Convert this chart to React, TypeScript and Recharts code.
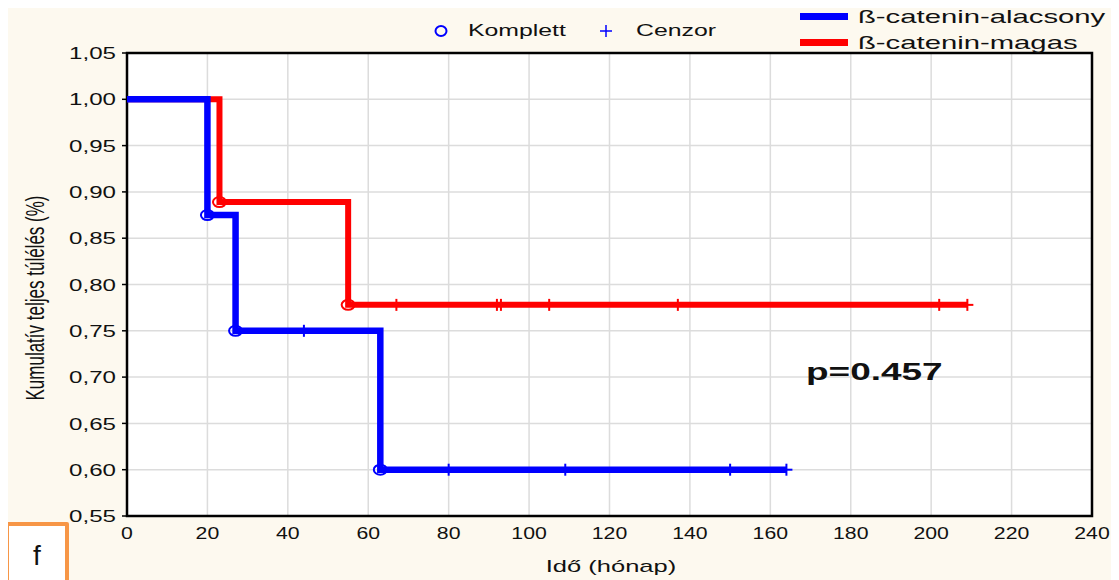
import React from "react";
import {
  ComposedChart,
  Line,
  Scatter,
  XAxis,
  YAxis,
  CartesianGrid,
  ReferenceArea,
} from "recharts";

// Kaplan-Meier steps: months and cumulative survival after each step
const LOW_TIME = [0, 20, 27, 63, 164];
const LOW_SURV = [1, 0.875, 0.75, 0.6, 0.6];
const HIGH_TIME = [0, 23, 55, 209];
const HIGH_SURV = [1, 0.889, 0.778, 0.778];

// complete (event) and censored observations, months
const LOW_EVENTS = [20, 27, 63];
const HIGH_EVENTS = [23, 55];
const LOW_CENSORED = [44, 80, 109, 150, 164];
const HIGH_CENSORED = [67, 92, 93, 105, 137, 202, 209];

const X_TICKS = [0, 20, 40, 60, 80, 100, 120, 140, 160, 180, 200, 220, 240];
const Y_TICKS = [0.55, 0.6, 0.65, 0.7, 0.75, 0.8, 0.85, 0.9, 0.95, 1.0, 1.05];

const BLUE = "#0000ff";
const RED = "#ff0000";
const BG = "#fdf9ef";
const FONT = "'Liberation Sans', Arial, sans-serif";
const NARROW = "'Liberation Sans Narrow', 'Liberation Sans', Arial, sans-serif";

const W = 1111;
const H = 572;

const survAt = (times: number[], surv: number[], t: number) => {
  let s = surv[0];
  times.forEach((tt, i) => {
    if (tt <= t) s = surv[i];
  });
  return s;
};

const steps = (times: number[], surv: number[]) =>
  times.map((t, i) => ({ t, s: surv[i] }));
const marks = (at: number[], times: number[], surv: number[]) =>
  at.map((t) => ({ t, s: survAt(times, surv, t) }));

const lowLine = steps(LOW_TIME, LOW_SURV);
const highLine = steps(HIGH_TIME, HIGH_SURV);
const lowEvents = marks(LOW_EVENTS, LOW_TIME, LOW_SURV);
const highEvents = marks(HIGH_EVENTS, HIGH_TIME, HIGH_SURV);
const lowCens = marks(LOW_CENSORED, LOW_TIME, LOW_SURV);
const highCens = marks(HIGH_CENSORED, HIGH_TIME, HIGH_SURV);

const openCircle = (color: string) => (p: any) =>
  (
    <ellipse cx={p.cx} cy={p.cy} rx={6.5} ry={5} fill="none" stroke={color} strokeWidth={2} />
  );

const plus = (color: string) => (p: any) =>
  (
    <g stroke={color} strokeWidth={2}>
      <line x1={p.cx} x2={p.cx} y1={p.cy - 6} y2={p.cy + 6} />
      <line x1={p.cx - 6} x2={p.cx + 6} y1={p.cy} y2={p.cy} />
    </g>
  );

const YTick = (p: any) => (
  <text
    transform={`translate(${p.x - 4},${p.y}) scale(1.42,1)`}
    textAnchor="end"
    dominantBaseline="central"
    fontFamily={FONT}
    fontSize={17}
    fill="#111"
  >
    {Number(p.payload.value).toFixed(2).replace(".", ",")}
  </text>
);

const XTick = (p: any) => (
  <text
    transform={`translate(${p.x},${p.y + 15}) scale(1.25,1)`}
    textAnchor="middle"
    fontFamily={NARROW}
    fontSize={17}
    fill="#111"
  >
    {p.payload.value}
  </text>
);

const stretched = (sx: number): React.CSSProperties => ({
  position: "absolute",
  whiteSpace: "nowrap",
  transform: `scaleX(${sx})`,
  transformOrigin: "left center",
  lineHeight: 1,
});

export default function App() {
  return (
    <div style={{ position: "relative", width: W, height: H, background: BG, overflow: "visible" }}>
      <ComposedChart width={W} height={H} margin={{ top: 45, right: 27, left: 0, bottom: 0 }}>
        <CartesianGrid stroke="#dcdcdc" strokeWidth={1.5} fill="#ffffff" />
        <XAxis
          type="number"
          dataKey="t"
          domain={[0, 240]}
          ticks={X_TICKS}
          height={64}
          axisLine={false}
          tickLine={false}
          tick={<XTick />}
          interval={0}
        />
        <YAxis
          type="number"
          dataKey="s"
          domain={[0.55, 1.05]}
          ticks={Y_TICKS}
          width={119}
          axisLine={false}
          tickLine={{ stroke: "#000", strokeWidth: 1.5 }}
          tickSize={5}
          tick={<YTick />}
          interval={0}
        />
        <ReferenceArea x1={0} x2={240} y1={0.55} y2={1.05} fill="none" stroke="#000" strokeWidth={2.5} />
        <Line
          data={highLine}
          dataKey="s"
          type="stepAfter"
          stroke={RED}
          strokeWidth={6}
          dot={false}
          isAnimationActive={false}
        />
        <Line
          data={lowLine}
          dataKey="s"
          type="stepAfter"
          stroke={BLUE}
          strokeWidth={6.5}
          dot={false}
          isAnimationActive={false}
        />
        <Scatter data={highEvents} dataKey="s" shape={openCircle(RED)} isAnimationActive={false} />
        <Scatter data={lowEvents} dataKey="s" shape={openCircle(BLUE)} isAnimationActive={false} />
        <Scatter data={highCens} dataKey="s" shape={plus(RED)} isAnimationActive={false} />
        <Scatter data={lowCens} dataKey="s" shape={plus(BLUE)} isAnimationActive={false} />
      </ComposedChart>

      {/* marker legend */}
      <svg style={{ position: "absolute", left: 424, top: 14 }} width={200} height={20}>
        <ellipse cx={9} cy={9} rx={5.5} ry={5} fill="none" stroke={BLUE} strokeWidth={2} />
        <line x1={174} x2={174} y1={3} y2={15} stroke={BLUE} strokeWidth={1.5} />
        <line x1={168} x2={180} y1={9} y2={9} stroke={BLUE} strokeWidth={1.5} />
      </svg>
      <div style={{ ...stretched(1.55), left: 460, top: 15, fontFamily: FONT, fontSize: 16, color: "#111" }}>
        Komplett
      </div>
      <div style={{ ...stretched(1.55), left: 628, top: 15, fontFamily: FONT, fontSize: 16, color: "#111" }}>
        Cenzor
      </div>

      {/* series legend */}
      <div style={{ position: "absolute", left: 792, top: 5, width: 48, height: 7, background: BLUE }} />
      <div style={{ position: "absolute", left: 792, top: 31, width: 48, height: 7, background: RED }} />
      <div style={{ ...stretched(1.54), left: 850, top: -1, fontFamily: FONT, fontSize: 19, color: "#111" }}>
        ß-catenin-alacsony
      </div>
      <div style={{ ...stretched(1.54), left: 850, top: 25, fontFamily: FONT, fontSize: 19, color: "#111" }}>
        ß-catenin-magas
      </div>

      {/* log-rank p */}
      <div
        style={{
          ...stretched(1.54),
          left: 798,
          top: 352,
          fontFamily: FONT,
          fontSize: 24,
          fontWeight: "bold",
          color: "#111",
        }}
      >
        p=0.457
      </div>

      {/* axis titles */}
      <div
        style={{
          position: "absolute",
          left: 603,
          top: 558,
          transform: "translate(-50%,-50%) scaleX(1.5)",
          whiteSpace: "nowrap",
          fontFamily: NARROW,
          fontSize: 17,
          color: "#111",
          lineHeight: 1,
        }}
      >
        Idő (hónap)
      </div>
      <div
        style={{
          position: "absolute",
          left: 28,
          top: 290,
          transform: "translate(-50%,-50%) scaleX(1.5) rotate(-90deg)",
          whiteSpace: "nowrap",
          fontFamily: NARROW,
          fontSize: 17,
          color: "#111",
          lineHeight: 1,
        }}
      >
        Kumulatív teljes túlélés (%)
      </div>

      {/* panel letter */}
      <div
        style={{
          position: "absolute",
          left: -3,
          top: 514,
          width: 56,
          height: 70,
          background: "#fff",
          border: "4px solid #f79646",
          borderRadius: 2,
          fontFamily: FONT,
          fontSize: 28,
          color: "#111",
          textAlign: "center",
          lineHeight: "60px",
          boxSizing: "content-box",
        }}
      >
        f
      </div>
    </div>
  );
}
